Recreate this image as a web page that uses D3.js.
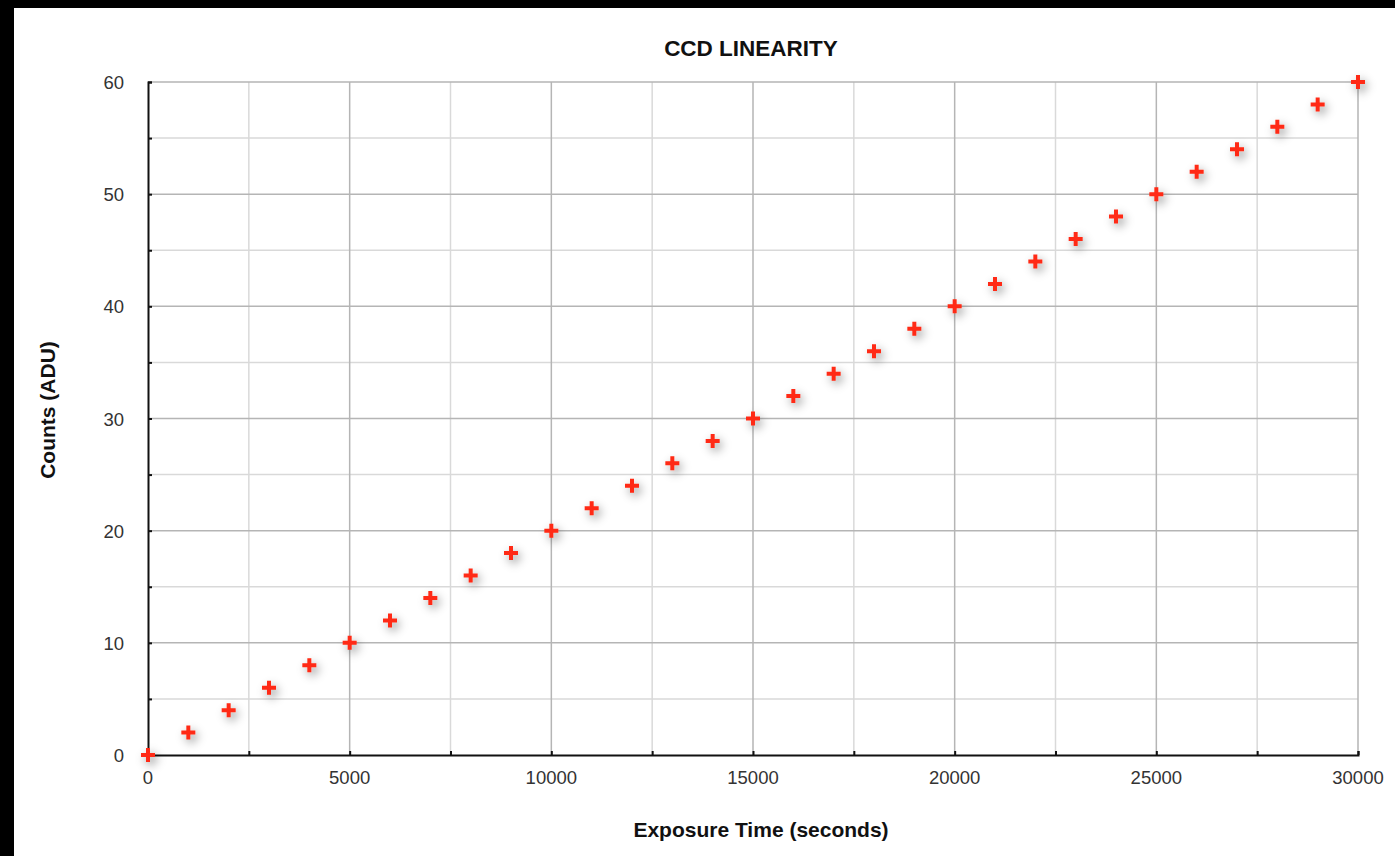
<!DOCTYPE html>
<html><head><meta charset="utf-8">
<script src="https://cdn.jsdelivr.net/npm/d3@7"></script>
<style>html,body{margin:0;padding:0;background:#fff;overflow:hidden}</style>
</head><body>
<svg id="c" width="1395" height="856"></svg>
<script>
const exposureTimes = [0,1000,2000,3000,4000,5000,6000,7000,8000,9000,10000,11000,12000,13000,14000,15000,16000,17000,18000,19000,20000,21000,22000,23000,24000,25000,26000,27000,28000,29000,30000];
const counts = [0,2,4,6,8,10,12,14,16,18,20,22,24,26,28,30,32,34,36,38,40,42,44,46,48,50,52,54,56,58,60];
const xTicks = [0,5000,10000,15000,20000,25000,30000];
const yTicks = [0,10,20,30,40,50,60];
const title = "CCD LINEARITY";
const xLabel = "Exposure Time (seconds)";
const yLabel = "Counts (ADU)";

const svg = d3.select("#c");
const W = 1395, H = 856;
svg.append("rect").attr("x",0).attr("y",0).attr("width",W).attr("height",H).attr("fill","#000");
svg.append("rect").attr("x",14).attr("y",8).attr("width",W-14).attr("height",H-8).attr("fill","#fff");

const L = 148, R = 1358, T = 82, B = 755;
const x = d3.scaleLinear().domain([0,30000]).range([L,R]);
const y = d3.scaleLinear().domain([0,60]).range([B,T]);

const defs = svg.append("defs");
const f = defs.append("filter").attr("id","sh").attr("x","-150%").attr("y","-150%").attr("width","400%").attr("height","400%");
f.append("feDropShadow").attr("dx",3).attr("dy",4).attr("stdDeviation",5).attr("flood-color","#000").attr("flood-opacity",0.4);

const g = svg.append("g");
const xMinor = d3.range(2500, 30001, 5000);
const yMinor = d3.range(5, 61, 10);
g.selectAll(".xm").data(xMinor).join("line")
  .attr("x1",d=>x(d)).attr("x2",d=>x(d)).attr("y1",T).attr("y2",B)
  .attr("stroke","#d9d9d9").attr("stroke-width",1.5);
g.selectAll(".ym").data(yMinor).join("line")
  .attr("y1",d=>y(d)).attr("y2",d=>y(d)).attr("x1",L).attr("x2",R)
  .attr("stroke","#d9d9d9").attr("stroke-width",1.5);
g.selectAll(".xM").data(xTicks.slice(1)).join("line")
  .attr("x1",d=>x(d)).attr("x2",d=>x(d)).attr("y1",T).attr("y2",B)
  .attr("stroke","#b5b5b5").attr("stroke-width",1.5);
g.selectAll(".yM").data(yTicks.slice(1)).join("line")
  .attr("y1",d=>y(d)).attr("y2",d=>y(d)).attr("x1",L).attr("x2",R)
  .attr("stroke","#b5b5b5").attr("stroke-width",1.5);

const xAxis = d3.axisBottom(x).tickValues(d3.range(0,30001,2500)).tickSize(-4).tickFormat("");
const yAxis = d3.axisLeft(y).tickValues(d3.range(0,61,5)).tickSize(-4).tickFormat("");
const gx = svg.append("g").attr("transform",`translate(0,${B})`).call(xAxis);
const gy = svg.append("g").attr("transform",`translate(${L},0)`).call(yAxis);
[gx,gy].forEach(a=>{
  a.select(".domain").attr("stroke","#111").attr("stroke-width",2);
  a.selectAll(".tick line").attr("stroke","#111").attr("stroke-width",2);
});

svg.selectAll(".xl").data(xTicks).join("text")
  .attr("x",d=>x(d)).attr("y",B+29).attr("text-anchor","middle")
  .attr("font-family","Liberation Sans, Arial, sans-serif").attr("font-size",18.5).attr("fill","#333")
  .text(d=>d);
svg.selectAll(".yl").data(yTicks).join("text")
  .attr("x",L-24).attr("y",d=>y(d)+7).attr("text-anchor","end")
  .attr("font-family","Liberation Sans, Arial, sans-serif").attr("font-size",18.5).attr("fill","#333")
  .text(d=>d);

svg.append("text").attr("x",751).attr("y",56).attr("text-anchor","middle")
  .attr("font-family","Liberation Sans, Arial, sans-serif").attr("font-weight","bold").attr("font-size",22.5).attr("fill","#111")
  .text(title);
svg.append("text").attr("x",761).attr("y",837).attr("text-anchor","middle")
  .attr("font-family","Liberation Sans, Arial, sans-serif").attr("font-weight","bold").attr("font-size",21).attr("fill","#111")
  .text(xLabel);
svg.append("text").attr("transform","translate(55,410) rotate(-90)").attr("text-anchor","middle")
  .attr("font-family","Liberation Sans, Arial, sans-serif").attr("font-weight","bold").attr("font-size",21).attr("fill","#111")
  .text(yLabel);

const pts = exposureTimes.map((t,i)=>({t, c: counts[i]}));
const mk = svg.append("g").selectAll("g").data(pts).join("g")
  .attr("transform",d=>`translate(${x(d.t)},${y(d.c)})`).attr("filter","url(#sh)");
mk.append("path").attr("d","M-7,0H7M0,-7V7").attr("stroke","#ff2a12").attr("stroke-width",4);
</script>
</body></html>
